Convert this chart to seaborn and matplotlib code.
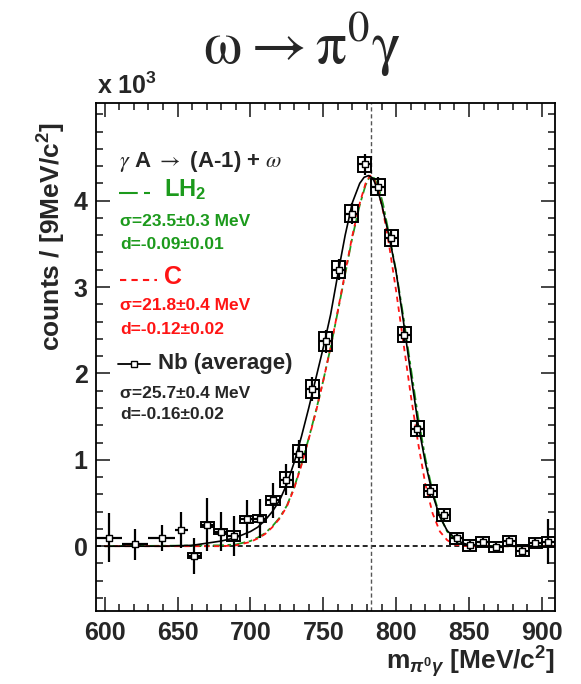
import matplotlib
matplotlib.use("Agg")
import matplotlib.pyplot as plt
from matplotlib.patches import Rectangle
from matplotlib.ticker import MultipleLocator
import seaborn as sns

# Nb (average) data points, counts in units of 10^3 per bin
mass = [603, 621, 639, 652.5, 661.5, 670.5, 679.5, 688.5, 697.5, 706.5, 715.5,
        724.5, 733.5, 742.5, 751.5, 760.5, 769.5, 778.5, 787.5, 796.5, 805.5,
        814.5, 823.5, 832.5, 841.5, 850.5, 859.5, 868.5, 877.5, 886.5, 895.5, 904.5]
half_bin = [9, 9, 9, 4.5, 4.5, 4.5, 4.5, 4.5, 4.5, 4.5, 4.5,
            4.5, 4.5, 4.5, 4.5, 4.5, 4.5, 4.5, 4.5, 4.5, 4.5,
            4.5, 4.5, 4.5, 4.5, 4.5, 4.5, 4.5, 4.5, 4.5, 4.5, 4.5]
counts = [0.10, 0.02, 0.09, 0.19, -0.11, 0.25, 0.17, 0.12, 0.31, 0.32, 0.53,
          0.77, 1.07, 1.82, 2.37, 3.20, 3.85, 4.42, 4.16, 3.57, 2.45,
          1.36, 0.64, 0.36, 0.09, 0.01, 0.05, -0.01, 0.06, -0.05, 0.04, 0.05]
stat_err = [0.28, 0.18, 0.15, 0.21, 0.21, 0.31, 0.23, 0.23, 0.22, 0.23, 0.20,
            0.18, 0.16, 0.14, 0.13, 0.12, 0.12, 0.12, 0.11, 0.10, 0.10,
            0.08, 0.07, 0.06, 0.05, 0.05, 0.05, 0.05, 0.05, 0.04, 0.05, 0.26]
sys_err = [0, 0, 0, 0, 0.03, 0.03, 0.03, 0.06, 0.04, 0.04, 0.05,
           0.09, 0.10, 0.10, 0.11, 0.10, 0.10, 0.09, 0.09, 0.09, 0.09,
           0.09, 0.07, 0.07, 0.06, 0.06, 0.06, 0.06, 0.06, 0.06, 0.06, 0.06]

# fitted line shapes
nb_x = [600, 640, 660, 680, 690, 700, 705, 710, 715, 720, 725, 730, 735, 740, 745,
        750, 755, 760, 765, 770, 775, 778, 781, 784, 787, 790, 795, 800, 805, 810,
        815, 820, 825, 830, 835, 840, 845, 850, 860, 909]
nb_y = [0.0, 0.0, 0.01, 0.06, 0.10, 0.17, 0.22, 0.30, 0.40, 0.53, 0.72, 0.97, 1.27, 1.60, 1.95,
        2.30, 2.68, 3.15, 3.60, 3.98, 4.20, 4.27, 4.29, 4.26, 4.14, 3.96, 3.60, 3.17, 2.60, 2.00,
        1.42, 0.97, 0.60, 0.34, 0.18, 0.10, 0.04, 0.015, 0.0, 0.0]

lh2_x = [600, 680, 690, 700, 705, 710, 715, 720, 725, 730, 735, 740, 745, 750, 755,
         760, 765, 770, 775, 779, 782, 785, 788, 791, 795, 800, 805, 810, 815, 820,
         825, 830, 835, 840, 845, 850, 860, 909]
lh2_y = [0.0, 0.01, 0.02, 0.06, 0.10, 0.15, 0.23, 0.33, 0.47, 0.68, 0.95, 1.25, 1.57, 1.92, 2.30,
         2.72, 3.15, 3.58, 3.95, 4.18, 4.28, 4.26, 4.15, 3.96, 3.62, 3.18, 2.65, 2.07, 1.50, 1.02,
         0.63, 0.35, 0.17, 0.08, 0.03, 0.01, 0.0, 0.0]

c_x = [600, 680, 690, 700, 705, 710, 715, 720, 725, 730, 735, 740, 745, 750, 755,
       760, 765, 770, 775, 779, 782, 785, 788, 791, 795, 800, 805, 810, 815, 820,
       825, 830, 835, 840, 845, 850, 909]
c_y = [0.0, 0.0, 0.01, 0.05, 0.09, 0.14, 0.22, 0.32, 0.46, 0.67, 0.94, 1.24, 1.56, 1.92, 2.30,
       2.73, 3.17, 3.60, 3.97, 4.20, 4.29, 4.24, 4.10, 3.88, 3.50, 2.95, 2.35, 1.75, 1.20, 0.72,
       0.38, 0.17, 0.07, 0.02, 0.005, 0.0, 0.0]

omega_mass = 782.65

green = '#1c9a1c'
red = '#ff1414'

sns.set_style("ticks")
plt.rcParams['font.family'] = ['Liberation Sans', 'DejaVu Sans']
plt.rcParams['mathtext.fontset'] = 'custom'
plt.rcParams['mathtext.rm'] = 'Liberation Sans:bold'
plt.rcParams['mathtext.it'] = 'Liberation Sans:italic:bold'
plt.rcParams['mathtext.bf'] = 'Liberation Sans:bold'

fig = plt.figure(figsize=(5.81, 6.84), dpi=100)
ax = fig.add_axes([96 / 581, 1 - 611 / 684, 459 / 581, 508 / 684])

# reference lines
ax.axhline(0, color='black', lw=1.2, ls=(0, (3, 2)), zorder=1)
ax.axvline(omega_mass, color='#555555', lw=1.0, ls=(0, (3, 2)), zorder=1)

# fits
sns.lineplot(x=lh2_x, y=lh2_y, ax=ax, color=green, lw=1.3, errorbar=None,
             linestyle=(0, (6, 2, 2, 2)), zorder=2)
sns.lineplot(x=c_x, y=c_y, ax=ax, color=red, lw=1.3, errorbar=None,
             linestyle=(0, (3, 2.5)), zorder=2)
sns.lineplot(x=nb_x, y=nb_y, ax=ax, color='black', lw=1.2, errorbar=None, zorder=3)

# data: error bars, systematic boxes, markers
ax.errorbar(mass, counts, xerr=half_bin, yerr=stat_err, fmt='none',
            ecolor='black', elinewidth=1.6, capsize=0, zorder=4)
for m, c, hb, s in zip(mass, counts, half_bin, sys_err):
    if s > 0:
        ax.add_patch(Rectangle((m - hb, c - s), 2 * hb, 2 * s, fill=False,
                               ec='black', lw=1.4, zorder=4))
sns.scatterplot(x=mass, y=counts, ax=ax, marker='s', s=24, color='white',
                edgecolor='black', linewidth=1.0, zorder=5)

ax.set_xlim(594, 909)
ax.set_ylim(-0.75, 5.13)
ax.xaxis.set_major_locator(MultipleLocator(50))
ax.xaxis.set_minor_locator(MultipleLocator(10))
ax.yaxis.set_major_locator(MultipleLocator(1))
ax.yaxis.set_minor_locator(MultipleLocator(0.2))
ax.set_yticks([0, 1, 2, 3, 4])
ax.tick_params(which='both', direction='in', top=True, right=True, width=1.2,
               labelsize=18)
ax.tick_params(which='major', length=10)
ax.tick_params(which='minor', length=5)
ax.tick_params(axis='x', pad=7)
ax.tick_params(axis='y', pad=6)
for lab in ax.get_xticklabels() + ax.get_yticklabels():
    lab.set_fontweight('bold')
for sp in ax.spines.values():
    sp.set_linewidth(1.3)
    sp.set_color('black')
ax.set_xlabel('')
ax.set_ylabel('')

# in-plot legend
tr = ax.transAxes
bold = dict(transform=tr, fontweight='bold', ha='left', va='center')
ax.text(0.050, 0.884, r'$\gamma$ A $\rightarrow$ (A-1) + $\omega$',
        fontsize=16, math_fontfamily='stix', **bold)
ax.plot([0.050, 0.118], [0.823, 0.823], transform=tr, color=green, lw=1.5,
        ls=(0, (9, 3, 3, 3)), clip_on=False)
ax.text(0.148, 0.830, r'LH$_2$', fontsize=17, color=green, **bold)
ax.text(0.052, 0.766, u'\u03c3=23.5\u00b10.3 MeV', fontsize=12.5, color=green, **bold)
ax.text(0.052, 0.722, u'd=-0.09\u00b10.01', fontsize=12.5, color=green, **bold)

ax.plot([0.052, 0.132], [0.652, 0.652], transform=tr, color=red, lw=1.5,
        ls=(0, (3, 2.5)), clip_on=False)
ax.text(0.148, 0.658, 'C', fontsize=18, color=red, **bold)
ax.text(0.052, 0.601, u'\u03c3=21.8\u00b10.4 MeV', fontsize=12.5, color=red, **bold)
ax.text(0.052, 0.555, u'd=-0.12\u00b10.02', fontsize=12.5, color=red, **bold)

ax.plot([0.048, 0.118], [0.486, 0.486], transform=tr, color='black', lw=1.3,
        clip_on=False)
ax.plot([0.083], [0.486], transform=tr, marker='s', ms=5, mfc='white',
        mec='black', mew=1.0, clip_on=False)
ax.text(0.135, 0.488, 'Nb (average)', fontsize=16, **bold)
ax.text(0.052, 0.429, u'\u03c3=25.7\u00b10.4 MeV', fontsize=12.5, **bold)
ax.text(0.052, 0.386, u'd=-0.16\u00b10.02', fontsize=12.5, **bold)

# titles and axis labels
fig.text(0.52, 0.934, r'$\mathrm{\omega}\rightarrow\mathrm{\pi}^{0}\mathrm{\gamma}$',
         fontsize=44, ha='center', va='center', math_fontfamily='stix')
ax.text(0.002, 1.008, r'x 10$^{3}$', transform=tr, fontsize=18,
        fontweight='bold', ha='left', va='bottom')
fig.text(52 / 581, 1 - 237 / 684, r'counts / [9MeV/c$^{2}$]', fontsize=19,
         fontweight='bold', rotation=90, ha='center', va='center')
fig.text(555 / 581, 1 - 662 / 684, r'm$_{\pi^{0}\gamma}$ [MeV/c$^{2}$]',
         fontsize=19, fontweight='bold', ha='right', va='center')

fig.savefig('out.png', dpi=100)
